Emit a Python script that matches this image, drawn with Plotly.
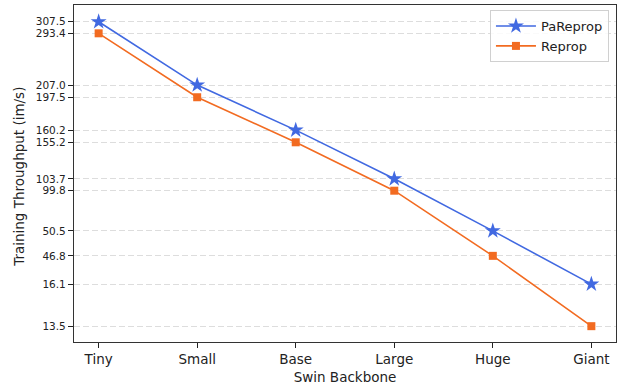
import plotly.graph_objects as go

# Data
backbones = ["Tiny", "Small", "Base", "Large", "Huge", "Giant"]
# Throughput labels (im/s)
pareprop_tput = [307.5, 207.0, 160.2, 103.7, 50.5, 16.1]
reprop_tput = [293.4, 197.5, 155.2, 99.8, 46.8, 13.5]
# Values on the chart's (unlabelled, linear) vertical scale
pareprop_axis = [100.0, 79.2, 64.4, 48.4, 31.3, 13.8]
reprop_axis = [96.2, 75.2, 60.4, 44.5, 23.1, 0.0]

BLUE = "#4169e1"
ORANGE = "#f26b21"
FONT = "DejaVu Sans"

fig = go.Figure()
fig.add_trace(go.Scatter(
    x=backbones, y=pareprop_axis, name="PaReprop", mode="lines+markers",
    line=dict(color=BLUE, width=1.6),
    marker=dict(symbol="star", size=12, color=BLUE),
    customdata=pareprop_tput, hovertemplate="%{x}: %{customdata} im/s<extra></extra>",
))
fig.add_trace(go.Scatter(
    x=backbones, y=reprop_axis, name="Reprop", mode="lines+markers",
    line=dict(color=ORANGE, width=1.6),
    marker=dict(symbol="square", size=8, color=ORANGE),
    customdata=reprop_tput, hovertemplate="%{x}: %{customdata} im/s<extra></extra>",
))

tickvals = pareprop_axis + reprop_axis
ticktext = [f"{v:.1f}" for v in pareprop_tput + reprop_tput]

fig.update_layout(
    width=619, height=387,
    margin=dict(l=74, r=3, t=5, b=45),
    paper_bgcolor="white", plot_bgcolor="white",
    font=dict(family=FONT, color="#222222"),
    showlegend=True,
    legend=dict(
        x=0.987, y=0.985, xanchor="right", yanchor="top",
        bgcolor="rgba(255,255,255,0.85)", bordercolor="#d0d0d0", borderwidth=1,
        font=dict(size=13, family=FONT, color="#222222"),
        tracegroupgap=0, itemwidth=40,
    ),
    xaxis=dict(
        type="category", range=[-0.25, 5.25],
        showline=True, linecolor="#333333", linewidth=1.2, mirror=True,
        ticks="outside", ticklen=5, tickwidth=1.2, tickcolor="#222222",
        showgrid=False, zeroline=False,
        tickfont=dict(size=13.5, family=FONT, color="#222222"),
        title=dict(text="Swin Backbone", font=dict(size=13.5, family=FONT, color="#222222"), standoff=6),
    ),
    yaxis=dict(
        range=[-5.2, 105.5],
        tickmode="array", tickvals=tickvals, ticktext=ticktext,
        showline=True, linecolor="#333333", linewidth=1.2, mirror=True,
        ticks="outside", ticklen=5, tickwidth=1.2, tickcolor="#222222",
        showgrid=True, gridcolor="#dddddd", griddash="6px,3px", gridwidth=1.3,
        zeroline=False,
        tickfont=dict(size=10.5, family=FONT, color="#222222"),
    ),
    annotations=[dict(
        text="Training Throughput (im/s)", textangle=-90,
        xref="paper", yref="paper", x=0, y=0.49, xshift=-55,
        xanchor="center", yanchor="middle", showarrow=False,
        font=dict(size=13.5, family=FONT, color="#222222"),
    )],
)

fig.write_html("out.html")
